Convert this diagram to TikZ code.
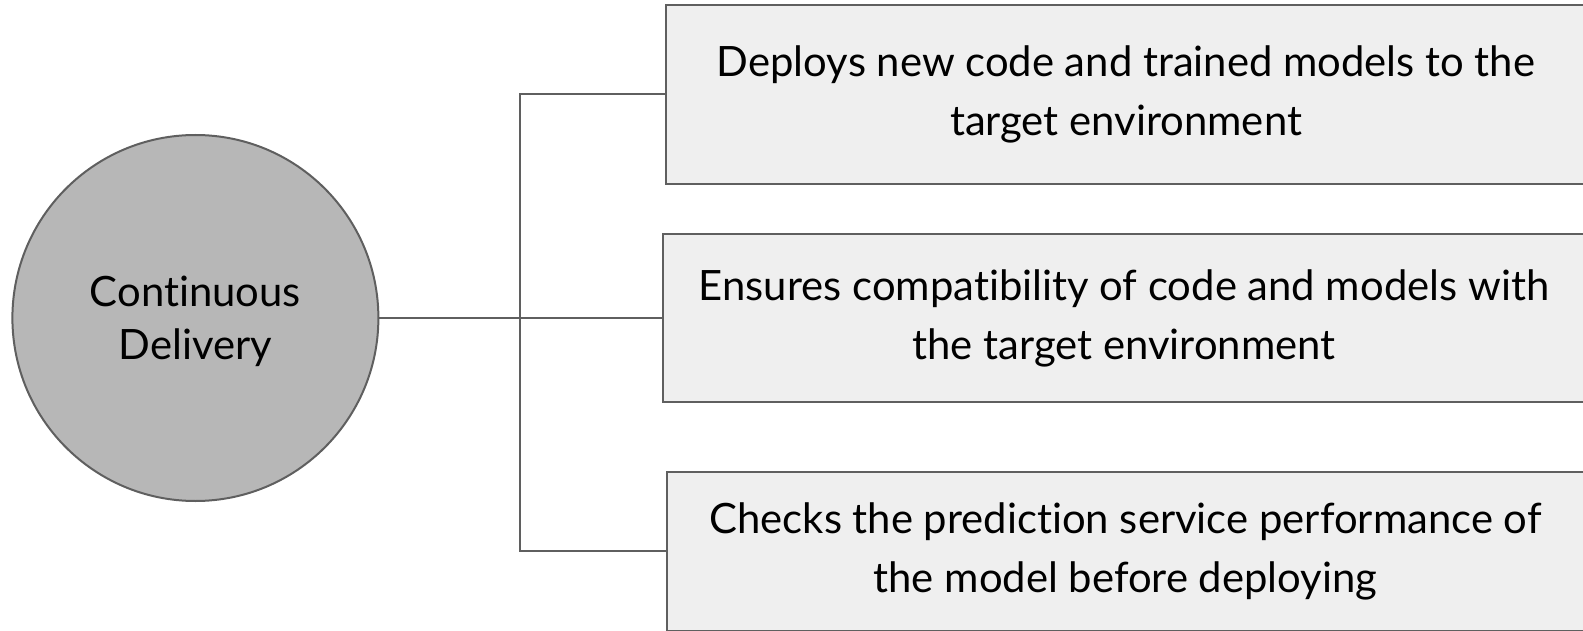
\documentclass[tikz,border=0pt]{standalone}
\usepackage{fontspec}
\setmainfont[Ligatures={NoCommon,NoRare,NoDiscretionary}]{Lato}
\definecolor{hubfill}{HTML}{B7B7B7}
\definecolor{boxfill}{HTML}{EFEFEF}
\definecolor{edgegray}{HTML}{5F5F5F}
\begin{document}
\begin{tikzpicture}[x=1pt,y=-1pt,
  hub/.style={circle, draw=edgegray, line width=2pt, fill=hubfill,
    minimum size=366pt, inner sep=0pt, align=center,
    font=\fontsize{41.8}{53}\selectfont},
  itembox/.style={rectangle, draw=edgegray, line width=2pt, fill=boxfill,
    inner sep=0pt, align=center, font=\fontsize{41.8}{59}\selectfont},
  link/.style={draw=edgegray, line width=2pt}
]
\useasboundingbox (0,0) rectangle (1583,631);

% text lowered a little inside the circle, box dimensions kept
\node[hub] (cd) at (195.4,318)
  {\raisebox{-4.5pt}[\height][\depth]{\begin{tabular}{@{}c@{}}Continuous\\Delivery\end{tabular}}};

\node[itembox, minimum width=920pt, minimum height=179pt] (b1) at (1126,94.5)
  {Deploys new code and trained models to the\\target environment};
\node[itembox, minimum width=922pt, minimum height=168pt] (b2) at (1124,318)
  {Ensures compatibility of code and models with\\the target environment};
\node[itembox, minimum width=917pt, minimum height=159pt] (b3) at (1125.5,551)
  {Checks the prediction service performance of\\the model before deploying};

\coordinate (j) at (520.3,318);
\draw[link, line width=2.6pt] (cd.east) -- (j);
\draw[link] (j) |- (b1.west);
\draw[link] (j) -- (b2.west);
\draw[link] (j) |- (b3.west);
\end{tikzpicture}
\end{document}
